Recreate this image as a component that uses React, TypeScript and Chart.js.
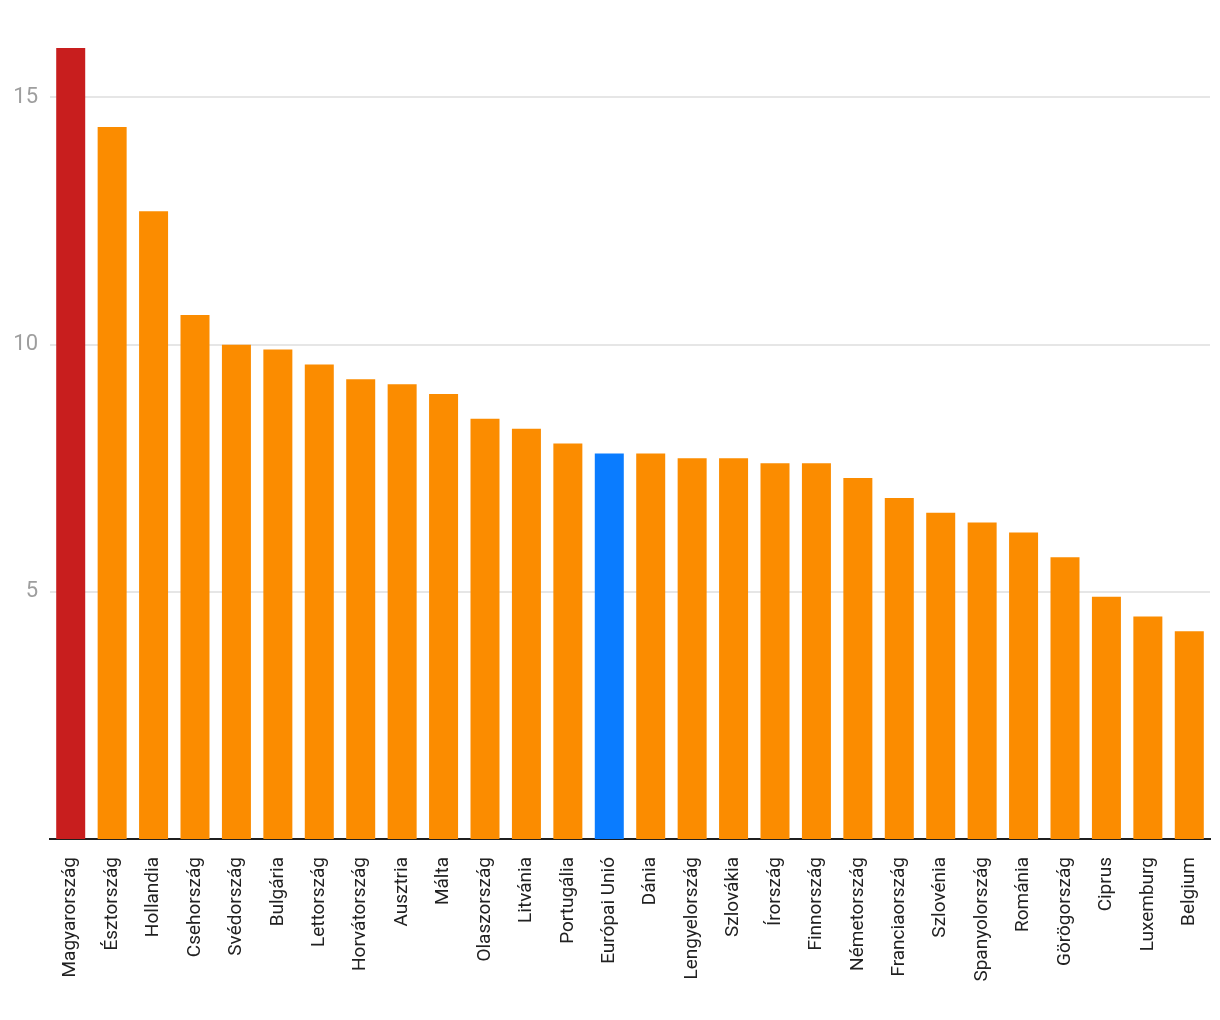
import React, { useEffect, useRef } from "react";
import { Chart, registerables } from "chart.js";

Chart.register(...registerables);

const categories = [
  "Magyarország", "Észtország", "Hollandia", "Csehország", "Svédország", "Bulgária",
  "Lettország", "Horvátország", "Ausztria", "Málta", "Olaszország", "Litvánia",
  "Portugália", "Európai Unió", "Dánia", "Lengyelország", "Szlovákia", "Írország",
  "Finnország", "Németország", "Franciaország", "Szlovénia", "Spanyolország",
  "Románia", "Görögország", "Ciprus", "Luxemburg", "Belgium",
];

const values = [
  16.0, 14.4, 12.7, 10.6, 10.0, 9.9, 9.6, 9.3, 9.2, 9.0, 8.5, 8.3, 8.0, 7.8, 7.8,
  7.7, 7.7, 7.6, 7.6, 7.3, 6.9, 6.6, 6.4, 6.2, 5.7, 4.9, 4.5, 4.2,
];

const yTicks = [5, 10, 15];

const highlightRed = "Magyarország";
const highlightBlue = "Európai Unió";

export default function App() {
  const ref = useRef<HTMLCanvasElement | null>(null);

  useEffect(() => {
    if (!ref.current) return;
    const colors = categories.map((c) =>
      c === highlightRed ? "#c81e1e" : c === highlightBlue ? "#0a7cff" : "#fb8c00"
    );
    const chart = new Chart(ref.current, {
      type: "bar",
      data: {
        labels: categories,
        datasets: [
          {
            data: values,
            backgroundColor: colors,
            borderWidth: 0,
            categoryPercentage: 1,
            barPercentage: 0.7,
          },
        ],
      },
      options: {
        animation: false,
        responsive: false,
        maintainAspectRatio: false,
        layout: { padding: { top: 48, right: 10, left: 0, bottom: 0 } },
        plugins: { legend: { display: false }, tooltip: { enabled: false } },
        scales: {
          x: {
            grid: { display: false },
            border: { display: true, color: "#1f1f1f", width: 2 },
            ticks: {
              minRotation: 90,
              maxRotation: 90,
              autoSkip: false,
              padding: 10,
              color: "#212121",
              font: { family: "Roboto", size: 19 },
            },
            afterFit: (scale: any) => {
              scale.height = 181;
              scale.paddingLeft = 0;
              scale.paddingRight = 0;
            },
          },
          y: {
            min: 0,
            max: 16,
            border: { display: false },
            grid: { color: "#e6e6e6", lineWidth: 2, drawTicks: false },
            afterBuildTicks: (axis: any) => {
              axis.ticks = yTicks.map((v) => ({ value: v }));
            },
            ticks: {
              padding: 12,
              color: "#9e9e9e",
              font: { family: "Roboto", size: 22 },
            },
            afterFit: (scale: any) => {
              scale.width = 50;
            },
          },
        },
      },
    });
    return () => chart.destroy();
  }, []);

  return (
    <div style={{ position: "absolute", left: 0, top: 0, width: 1220, height: 1020, background: "#fff" }}>
      <canvas ref={ref} width={1220} height={1020} style={{ width: 1220, height: 1020 }} />
    </div>
  );
}
